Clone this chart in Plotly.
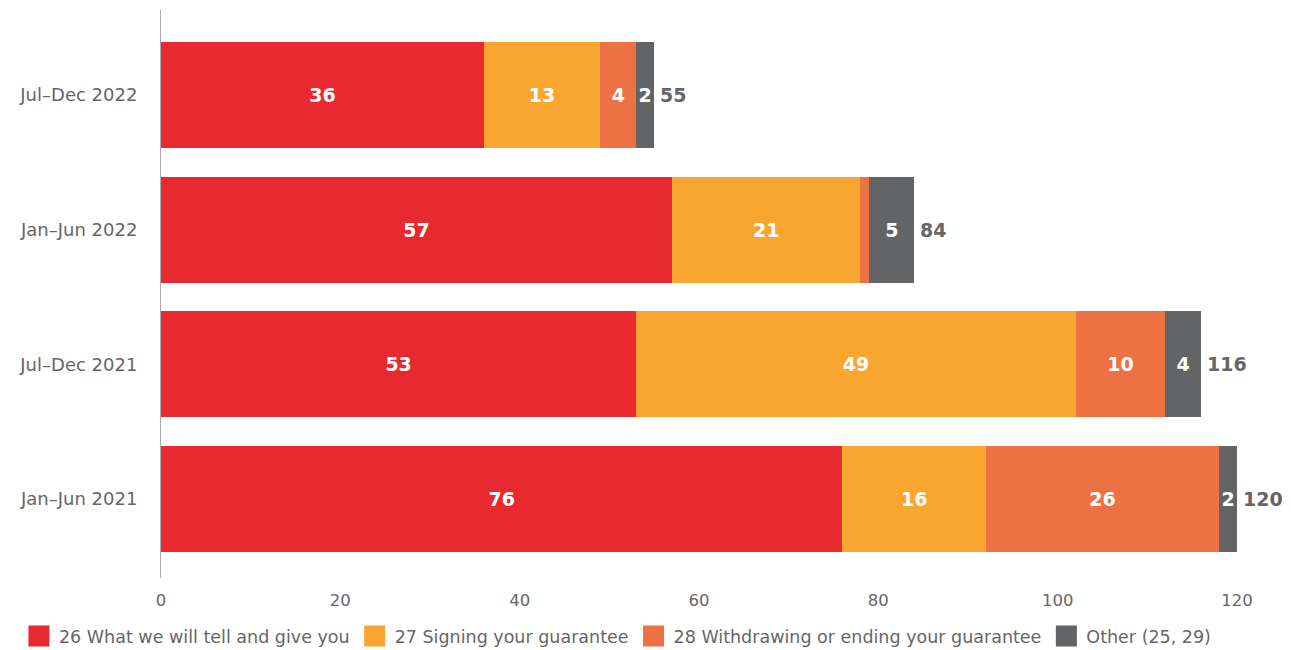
import plotly.graph_objects as go

categories = ["Jul–Dec 2022", "Jan–Jun 2022", "Jul–Dec 2021", "Jan–Jun 2021"]
series_names = ["26 What we will tell and give you", "27 Signing your guarantee",
                "28 Withdrawing or ending your guarantee", "Other (25, 29)"]
tell_give = [36, 57, 53, 76]
signing = [13, 21, 49, 16]
withdrawing = [4, 1, 10, 26]
other = [2, 5, 4, 2]
totals = [55, 84, 116, 120]
x_ticks = [0, 20, 40, 60, 80, 100, 120]

colors = ["#E8292F", "#F9A630", "#EC7143", "#636466"]
FONT = "DejaVu Sans"

fig = go.Figure()
for name, vals, col in zip(series_names, [tell_give, signing, withdrawing, other], colors):
    fig.add_trace(go.Bar(
        y=categories, x=vals, name=name, orientation="h", showlegend=False,
        marker=dict(color=col, line=dict(width=0)),
        text=[str(v) if v > 1 else "" for v in vals],
        textposition="inside", insidetextanchor="middle", textangle=0,
        textfont=dict(color="white", size=19, family=FONT, weight="bold"),
        hoverinfo="skip",
    ))

# legend-only entries with large square swatches
for name, col in zip(series_names, colors):
    fig.add_trace(go.Scatter(
        x=[None], y=[None], mode="markers", name=name, showlegend=True,
        marker=dict(symbol="square", size=16, color=col, line=dict(color=col, width=5)),
        hoverinfo="skip",
    ))

for cat, tot in zip(categories, totals):
    fig.add_annotation(x=tot, y=cat, text=str(tot), showarrow=False,
                       xanchor="left", xshift=4,
                       font=dict(color="#666666", size=19, family=FONT, weight="bold"))

fig.update_layout(
    barmode="stack", bargap=0.213,
    width=1283, height=642,
    margin=dict(l=153, r=54, t=2, b=72, autoexpand=False),
    paper_bgcolor="white", plot_bgcolor="white",
    font=dict(family=FONT, color="#666666", size=16),
    uniformtext=dict(minsize=19, mode="show"),
    legend=dict(orientation="h", x=-0.132, xanchor="left",
                y=-0.0705, yanchor="top",
                font=dict(size=17.5, color="#666666", family=FONT), traceorder="normal",
                itemwidth=30, itemsizing="trace"),
    xaxis=dict(range=[0, 120], tickvals=x_ticks, showgrid=False, zeroline=False,
               showline=False, ticks="", automargin=False, ticklabelstandoff=10,
               tickfont=dict(size=16.5, color="#666666")),
    yaxis=dict(categoryorder="array", categoryarray=categories,
               range=[3.587, -0.631], showgrid=False, zeroline=False,
               showline=True, linecolor="#aaaaaa", linewidth=1,
               ticks="", ticklabelstandoff=19, automargin=False,
               tickfont=dict(size=18, color="#666666")),
)

fig.write_html("out.html")
